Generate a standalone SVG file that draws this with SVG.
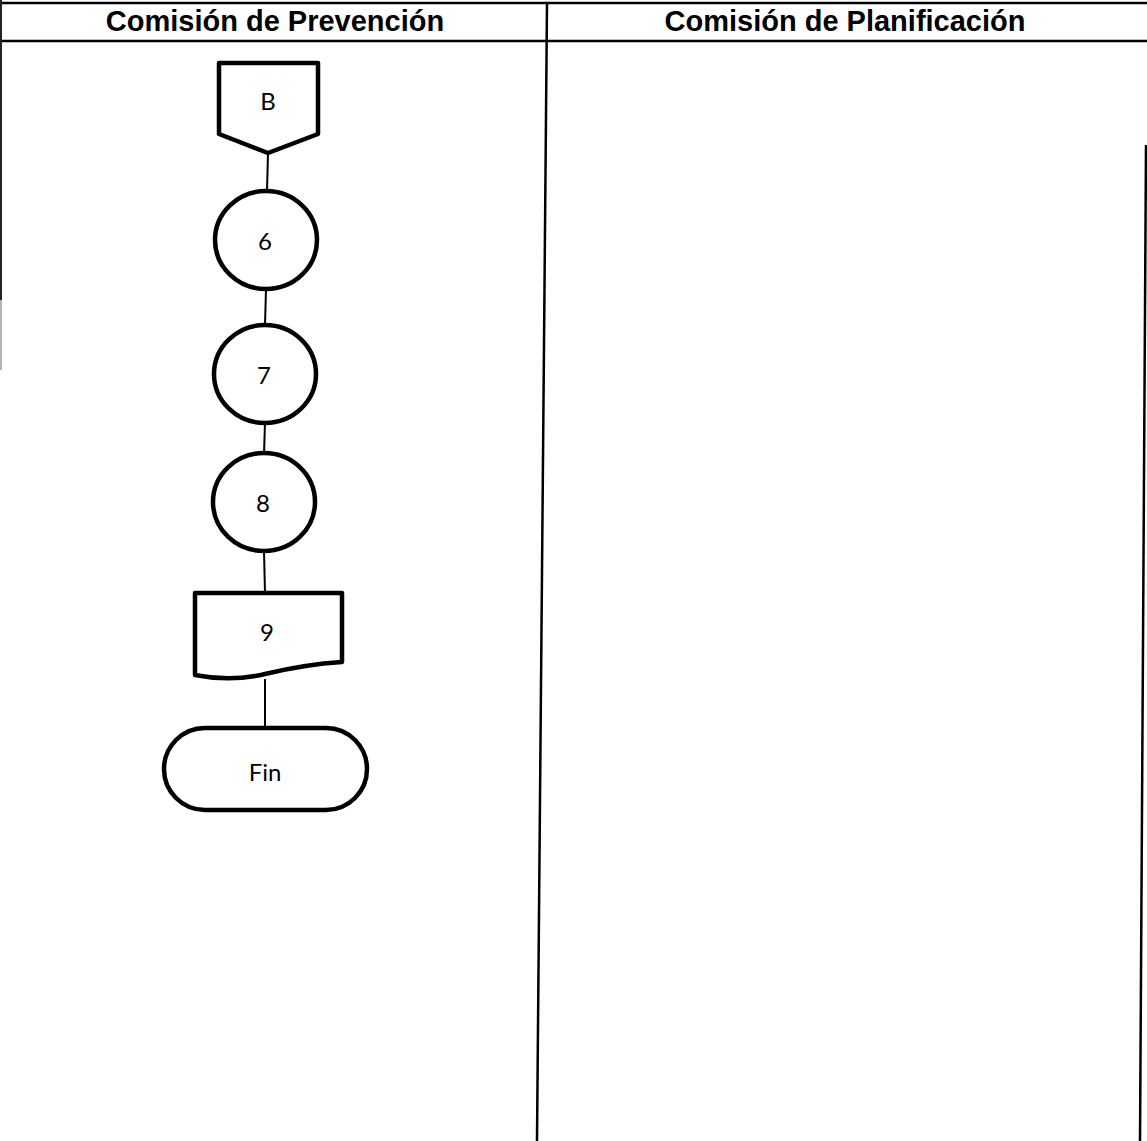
<svg xmlns="http://www.w3.org/2000/svg" width="1147" height="1141" viewBox="0 0 1147 1141">
<style>
.frame{stroke:#000;stroke-width:2.5;fill:none}
.shape{stroke:#000;stroke-width:4.5;fill:#fff;stroke-linejoin:round}
.conn{stroke:#000;stroke-width:2;fill:none}
.hdr{font-family:"Liberation Sans",Arial,sans-serif;font-weight:bold;font-size:29px;text-anchor:middle;fill:#000}
.lbl{font-family:Lato,"Open Sans",sans-serif;font-size:24px;text-anchor:middle;fill:#000}
</style>
<rect width="1147" height="1141" fill="#fff"/>
<g id="frame">
<line class="frame" x1="0" y1="3" x2="1147" y2="3"/>
<line class="frame" x1="0" y1="41" x2="1147" y2="41"/>
<line class="frame" x1="547" y1="3" x2="537" y2="1141"/>
<line x1="1" y1="0" x2="1" y2="300" stroke="#222" stroke-width="2"/>
<line x1="1" y1="300" x2="1" y2="370" stroke="#999" stroke-width="1.5"/>
<line class="frame" x1="1146" y1="145" x2="1140" y2="1141"/>
<text class="hdr" x="275" y="31">Comisión de Prevención</text>
<text class="hdr" x="845" y="31">Comisión de Planificación</text>
</g>
<g id="connectors">
<line class="conn" x1="268" y1="153" x2="267" y2="191"/>
<line class="conn" x1="266" y1="289" x2="265" y2="325"/>
<line class="conn" x1="265" y1="423" x2="264" y2="454"/>
<line class="conn" x1="264" y1="551" x2="265" y2="593"/>
<line class="conn" x1="265" y1="679" x2="265" y2="728"/>
</g>
<g id="nodeB">
<path class="shape" d="M219,63 L318,63 L318,134 L268,153 L219,134 Z"/>
<text class="lbl" x="268" y="110">B</text>
</g>
<g id="node6">
<ellipse class="shape" cx="266" cy="240" rx="51" ry="49"/>
<text class="lbl" x="265" y="250">6</text>
</g>
<g id="node7">
<ellipse class="shape" cx="265" cy="374" rx="51" ry="49"/>
<text class="lbl" x="264" y="384">7</text>
</g>
<g id="node8">
<ellipse class="shape" cx="264" cy="502" rx="51" ry="49"/>
<text class="lbl" x="263" y="512">8</text>
</g>
<g id="node9">
<path class="shape" d="M195,593 L342,593 L342,662 C310,664 290,668 265,674 C240,680 215,679 195,675 Z"/>
<text class="lbl" x="267" y="641">9</text>
</g>
<g id="nodeFin">
<rect class="shape" x="164" y="728" width="203" height="82" rx="41" ry="41"/>
<text class="lbl" x="265" y="781">Fin</text>
</g>
</svg>
